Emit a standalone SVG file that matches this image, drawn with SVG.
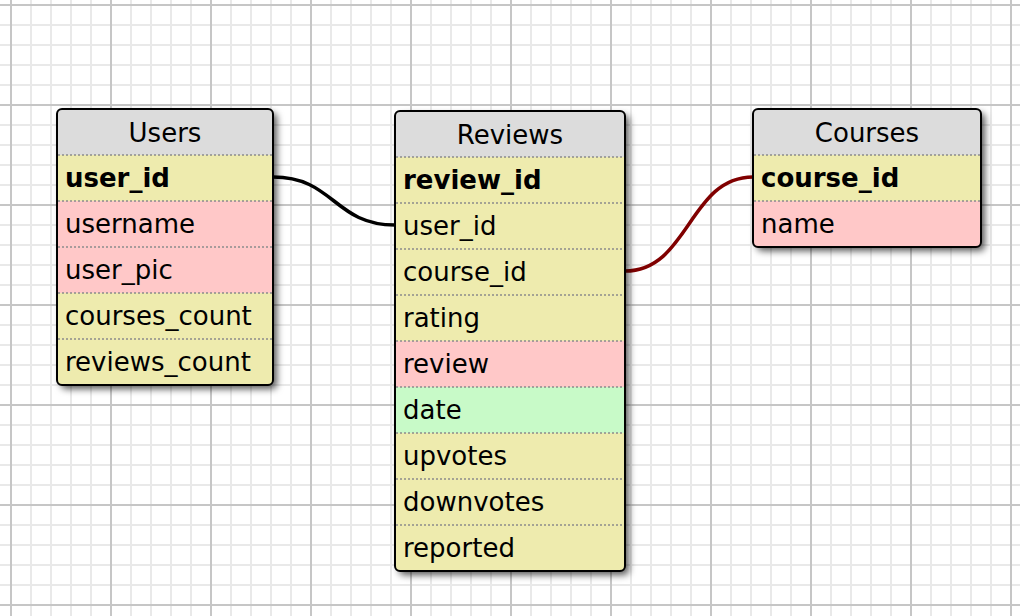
<svg xmlns="http://www.w3.org/2000/svg" width="1020" height="616" viewBox="0 0 1020 616">
<style>
  text { font-family: "DejaVu Sans", Verdana, sans-serif; font-size: 26px; fill: #000; }
  .title { text-anchor: middle; }
  .pk { font-weight: bold; }
  .hdr { fill: #dcdcdc; }
  .y { fill: #eeebae; }
  .p { fill: #ffc8c8; }
  .g { fill: #c8fac8; }
  .sep { stroke: #8c8c8c; stroke-width: 1.5; stroke-dasharray: 2 2; }
  .border { fill: none; stroke: #000; stroke-width: 2; }
  .conn { fill: none; stroke-width: 3.5; }
</style>
<defs>
  <pattern id="grid" patternUnits="userSpaceOnUse" x="10" y="4" width="100" height="100">
    <rect width="100" height="100" fill="#fff"/>
    <g fill="#e9e9e9">
      <rect x="20" y="0" width="2" height="100"/>
      <rect x="40" y="0" width="2" height="100"/>
      <rect x="60" y="0" width="2" height="100"/>
      <rect x="80" y="0" width="2" height="100"/>
      <rect x="0" y="20" width="100" height="2"/>
      <rect x="0" y="40" width="100" height="2"/>
      <rect x="0" y="60" width="100" height="2"/>
      <rect x="0" y="80" width="100" height="2"/>
    </g>
    <g fill="#c6c6c6">
      <rect x="0" y="0" width="2" height="100"/>
      <rect x="0" y="0" width="100" height="2"/>
    </g>
  </pattern>
  <filter id="shadow" x="-10%" y="-10%" width="130%" height="130%">
    <feDropShadow dx="4" dy="4" stdDeviation="3.5" flood-color="#000" flood-opacity="0.65"/>
  </filter>
  <clipPath id="cUsers"><rect x="57" y="109" width="216" height="276" rx="5"/></clipPath>
  <clipPath id="cReviews"><rect x="395" y="111" width="230" height="460" rx="5"/></clipPath>
  <clipPath id="cCourses"><rect x="753" y="109" width="228" height="138" rx="5"/></clipPath>
</defs>
<rect width="1020" height="616" fill="url(#grid)"/>

<g id="connectors">
  <path class="conn" stroke="#000" d="M273,177 C334,177 334,225 395,225"/>
  <path class="conn" stroke="#800000" d="M625,271 C689,271 689,177 753,177"/>
</g>

<g id="users">
  <rect x="57" y="109" width="216" height="276" rx="5" fill="#eeebae" filter="url(#shadow)"/>
  <g clip-path="url(#cUsers)">
    <rect class="hdr" x="57" y="109" width="216" height="46"/>
    <rect class="y" x="57" y="155" width="216" height="46"/>
    <rect class="p" x="57" y="201" width="216" height="46"/>
    <rect class="p" x="57" y="247" width="216" height="46"/>
    <rect class="y" x="57" y="293" width="216" height="46"/>
    <rect class="y" x="57" y="339" width="216" height="46"/>
  </g>
  <line class="sep" x1="58" y1="155" x2="272" y2="155"/>
  <line class="sep" x1="58" y1="201" x2="272" y2="201"/>
  <line class="sep" x1="58" y1="247" x2="272" y2="247"/>
  <line class="sep" x1="58" y1="293" x2="272" y2="293"/>
  <line class="sep" x1="58" y1="339" x2="272" y2="339"/>
  <rect class="border" x="57" y="109" width="216" height="276" rx="5"/>
  <text class="title" x="165" y="142">Users</text>
  <text class="pk" x="65" y="187">user_id</text>
  <text x="65" y="233">username</text>
  <text x="65" y="279">user_pic</text>
  <text x="65" y="325">courses_count</text>
  <text x="65" y="371">reviews_count</text>
</g>

<g id="reviews">
  <rect x="395" y="111" width="230" height="460" rx="5" fill="#eeebae" filter="url(#shadow)"/>
  <g clip-path="url(#cReviews)">
    <rect class="hdr" x="395" y="111" width="230" height="46"/>
    <rect class="y" x="395" y="157" width="230" height="184"/>
    <rect class="p" x="395" y="341" width="230" height="46"/>
    <rect class="g" x="395" y="387" width="230" height="46"/>
    <rect class="y" x="395" y="433" width="230" height="138"/>
  </g>
  <line class="sep" x1="396" y1="157" x2="624" y2="157"/>
  <line class="sep" x1="396" y1="203" x2="624" y2="203"/>
  <line class="sep" x1="396" y1="249" x2="624" y2="249"/>
  <line class="sep" x1="396" y1="295" x2="624" y2="295"/>
  <line class="sep" x1="396" y1="341" x2="624" y2="341"/>
  <line class="sep" x1="396" y1="387" x2="624" y2="387"/>
  <line class="sep" x1="396" y1="433" x2="624" y2="433"/>
  <line class="sep" x1="396" y1="479" x2="624" y2="479"/>
  <line class="sep" x1="396" y1="525" x2="624" y2="525"/>
  <rect class="border" x="395" y="111" width="230" height="460" rx="5"/>
  <text class="title" x="510" y="144">Reviews</text>
  <text class="pk" x="403" y="189">review_id</text>
  <text x="403" y="235">user_id</text>
  <text x="403" y="281">course_id</text>
  <text x="403" y="327">rating</text>
  <text x="403" y="373">review</text>
  <text x="403" y="419">date</text>
  <text x="403" y="465">upvotes</text>
  <text x="403" y="511">downvotes</text>
  <text x="403" y="557">reported</text>
</g>

<g id="courses">
  <rect x="753" y="109" width="228" height="138" rx="5" fill="#eeebae" filter="url(#shadow)"/>
  <g clip-path="url(#cCourses)">
    <rect class="hdr" x="753" y="109" width="228" height="46"/>
    <rect class="y" x="753" y="155" width="228" height="46"/>
    <rect class="p" x="753" y="201" width="228" height="46"/>
  </g>
  <line class="sep" x1="754" y1="155" x2="980" y2="155"/>
  <line class="sep" x1="754" y1="201" x2="980" y2="201"/>
  <rect class="border" x="753" y="109" width="228" height="138" rx="5"/>
  <text class="title" x="867" y="142">Courses</text>
  <text class="pk" x="761" y="187">course_id</text>
  <text x="761" y="233">name</text>
</g>
</svg>
